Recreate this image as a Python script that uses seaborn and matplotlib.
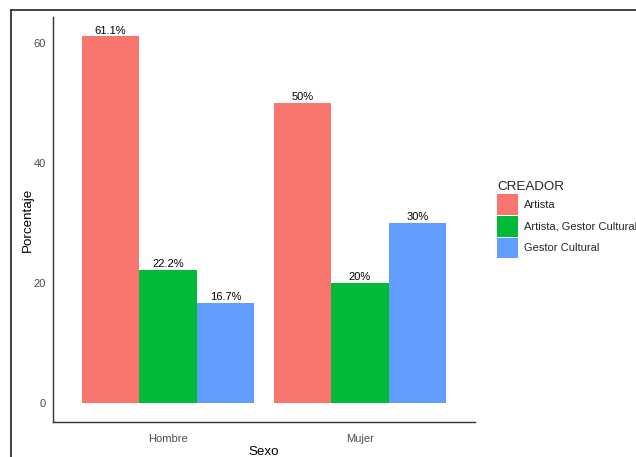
import matplotlib
matplotlib.use("Agg")
import matplotlib.pyplot as plt
import seaborn as sns
import pandas as pd
from matplotlib.lines import Line2D
from matplotlib.patches import Patch

sexo = ["Hombre", "Mujer"]
creador = ["Artista", "Artista, Gestor Cultural", "Gestor Cultural"]
hombre_vals = [61.1, 22.2, 16.7]
mujer_vals = [50.0, 20.0, 30.0]
colors = ["#F8766D", "#00BA38", "#619CFF"]

rows = []
for c, h, m in zip(creador, hombre_vals, mujer_vals):
    rows.append({"Sexo": "Hombre", "CREADOR": c, "Porcentaje": h})
    rows.append({"Sexo": "Mujer", "CREADOR": c, "Porcentaje": m})
df = pd.DataFrame(rows)

sns.set_style("white")
plt.rcParams["font.family"] = ["Liberation Sans", "DejaVu Sans"]

W, H = 636, 457
fig = plt.figure(figsize=(W / 100, H / 100), dpi=100)
ax = fig.add_axes([53 / W, 35 / H, (475 - 53) / W, (440 - 35) / H])

sns.barplot(data=df, x="Sexo", y="Porcentaje", hue="CREADOR", order=sexo,
            hue_order=creador, palette=colors, width=0.9, ax=ax,
            saturation=1, errorbar=None, legend=False, linewidth=0,
            edgecolor="none")

for cont in ax.containers:
    labels = [f"{b.get_height():g}%" for b in cont]
    ax.bar_label(cont, labels=labels, fontsize=8, color="black", padding=0.5)

ax.set_xlim(0.4 - 1, 2.6 - 1)
ax.set_ylim(-3.2, 64.3)
ax.set_yticks([0, 20, 40, 60])
ax.tick_params(axis="both", length=0, labelsize=8, labelcolor="#4D4D4D")
ax.tick_params(axis="y", pad=5)
ax.tick_params(axis="x", pad=9)
ax.set_xlabel("Sexo", fontsize=9.6, color="black", labelpad=1)
ax.set_ylabel("Porcentaje", fontsize=9.6, color="black", labelpad=0)
for s in ["top", "right"]:
    ax.spines[s].set_visible(False)
for s in ["left", "bottom"]:
    ax.spines[s].set_color("#333333")
    ax.spines[s].set_linewidth(1.0)

handles = [Patch(facecolor=c, edgecolor="none") for c in colors]
leg = fig.legend(handles, creador, title="CREADOR", loc="upper left",
                 bbox_to_anchor=(487 / W, 1 - 171 / H), frameon=False,
                 fontsize=8, title_fontsize=9.6, handlelength=1.9,
                 handleheight=2.45, handletextpad=0.55, labelspacing=0.12,
                 alignment="left")

# image border
fig.add_artist(Line2D([11 / W, 1], [1 - 10 / H, 1 - 10 / H], color="#222222", lw=1.2))
fig.add_artist(Line2D([11 / W, 11 / W], [0, 1 - 10 / H], color="#222222", lw=1.2))

fig.savefig("out.png", dpi=100)
